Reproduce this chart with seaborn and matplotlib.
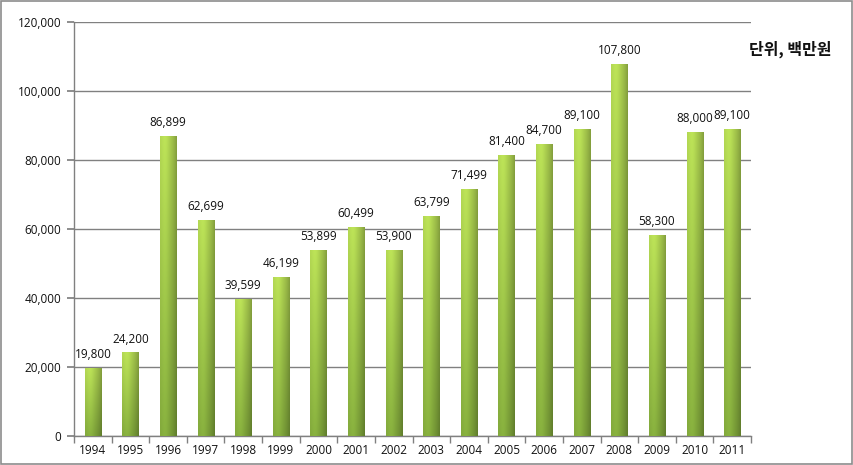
import numpy as np
import pandas as pd
import matplotlib
matplotlib.use("Agg")
import matplotlib.pyplot as plt
import seaborn as sns
from matplotlib.patches import Rectangle
from matplotlib.ticker import FuncFormatter, MultipleLocator

years = ["1994", "1995", "1996", "1997", "1998", "1999", "2000", "2001", "2002",
         "2003", "2004", "2005", "2006", "2007", "2008", "2009", "2010", "2011"]
values = [19800, 24200, 86899, 62699, 39599, 46199, 53899, 60499, 53900,
          63799, 71499, 81400, 84700, 89100, 107800, 58300, 88000, 89100]
unit_label = "단위, 백만원"

df = pd.DataFrame({"year": years, "value": values})

sns.set_theme(style="white")
plt.rcParams["font.family"] = ["Open Sans", "Noto Sans CJK KR", "DejaVu Sans"]

fig = plt.figure(figsize=(8.54, 4.65), dpi=100)
ax = fig.add_axes([0.0867, 0.0624, 0.7927, 0.8903])

sns.barplot(data=df, x="year", y="value", color="#9dc443", width=0.43,
            edgecolor="none", ax=ax, zorder=3)

# gradient fill for each bar (cylinder look: light left, dark right edge)
h, w = 64, 32
tv = np.linspace(0, 1, h)[:, None]
th = np.linspace(0, 1, w)[None, :]
top = np.array([0.69, 0.83, 0.32])
bot = np.array([0.50, 0.65, 0.23])
col = top[None, None, :] * (1 - tv[..., None]) + bot[None, None, :] * tv[..., None]
shade = 1.0 + 0.08 * np.exp(-((th - 0.3) / 0.25) ** 2) - 0.25 * th ** 3
img = np.clip(col * shade[..., None], 0, 1)

for bar in ax.patches:
    x0 = bar.get_x()
    bw = bar.get_width()
    bh = bar.get_height()
    im = ax.imshow(img, extent=(x0, x0 + bw, 0, bh), aspect="auto",
                   interpolation="bilinear", zorder=4)
    im.set_clip_path(bar)
    ax.annotate(f"{bh:,.0f}", (x0 + bw / 2, bh), xytext=(0, 5),
                textcoords="offset points", ha="center", va="bottom",
                fontsize=8.5, color="#111111", zorder=6)

ax.set_xlim(-0.5, len(years) - 0.5)
ax.set_ylim(0, 120000)
ax.yaxis.set_major_locator(MultipleLocator(20000))
ax.yaxis.set_major_formatter(FuncFormatter(lambda v, p: f"{v:,.0f}"))
ax.grid(axis="y", color="#808080", linewidth=1.0, zorder=0)
ax.set_axisbelow(True)
ax.set_xlabel("")
ax.set_ylabel("")

for s in ["top", "right"]:
    ax.spines[s].set_visible(False)
for s in ["left", "bottom"]:
    ax.spines[s].set_color("#808080")
    ax.spines[s].set_linewidth(1.0)

# x ticks at category boundaries, labels centred
ax.set_xticks(np.arange(len(years)))
ax.set_xticklabels(years)
ax.set_xticks(np.arange(len(years) + 1) - 0.5, minor=True)
ax.tick_params(axis="x", which="major", length=0, labelsize=8.5, pad=6, colors="#111111")
ax.tick_params(axis="x", which="minor", length=5, color="#808080", direction="out", bottom=True)
ax.tick_params(axis="y", which="major", length=5, color="#808080", direction="out",
               labelsize=8.5, pad=4, left=True, colors="#111111")

fig.text(0.925, 0.893, unit_label, ha="center", va="center", fontsize=11.5,
         fontweight="bold", family=["Noto Sans CJK KR", "DejaVu Sans"], color="#111111")

fig.patches.append(Rectangle((0.001, 0.002), 0.997, 0.995, transform=fig.transFigure,
                             fill=False, edgecolor="#8c8c8c", linewidth=1.2))

fig.savefig("out.png", dpi=100)
